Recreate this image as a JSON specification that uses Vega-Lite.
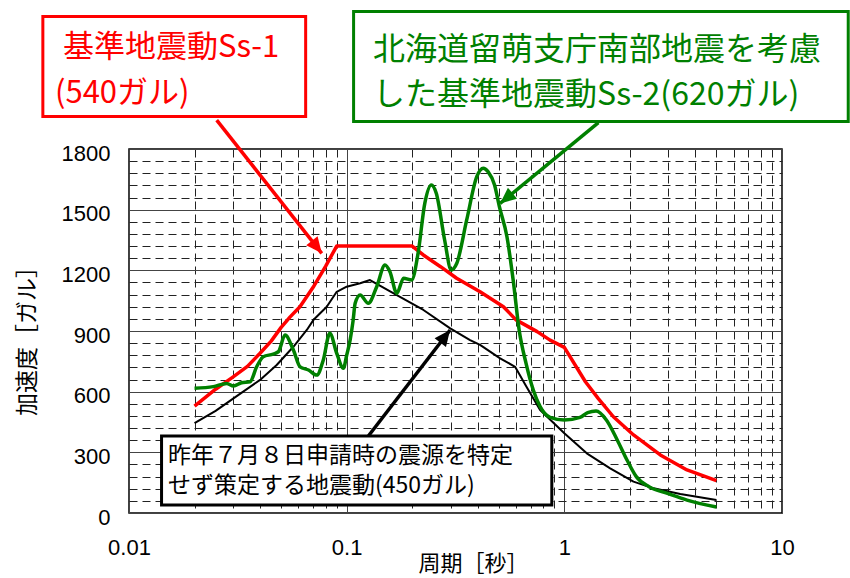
{
  "$schema": "https://vega.github.io/schema/vega-lite/v6.json",
  "width": 653,
  "height": 364,
  "autosize": {"type": "none"},
  "padding": {"left": 129, "top": 149, "right": 68, "bottom": 65},
  "background": "white",
  "config": {
    "view": {"stroke": "#000", "strokeWidth": 1.5}
  },
  "datasets": {
    "curves": [
      {"s": "Ss-3", "p": 0.02, "a": 444},
      {"s": "Ss-3", "p": 0.025, "a": 505},
      {"s": "Ss-3", "p": 0.0302, "a": 567},
      {"s": "Ss-3", "p": 0.04, "a": 658},
      {"s": "Ss-3", "p": 0.0477, "a": 732},
      {"s": "Ss-3", "p": 0.0569, "a": 822},
      {"s": "Ss-3", "p": 0.0656, "a": 905},
      {"s": "Ss-3", "p": 0.0703, "a": 954},
      {"s": "Ss-3", "p": 0.081, "a": 1020},
      {"s": "Ss-3", "p": 0.09, "a": 1094},
      {"s": "Ss-3", "p": 0.1, "a": 1119},
      {"s": "Ss-3", "p": 0.1153, "a": 1136},
      {"s": "Ss-3", "p": 0.128, "a": 1152},
      {"s": "Ss-3", "p": 0.17, "a": 1078},
      {"s": "Ss-3", "p": 0.2252, "a": 1004},
      {"s": "Ss-3", "p": 0.299, "a": 913},
      {"s": "Ss-3", "p": 0.369, "a": 855},
      {"s": "Ss-3", "p": 0.41, "a": 831},
      {"s": "Ss-3", "p": 0.507, "a": 765},
      {"s": "Ss-3", "p": 0.594, "a": 723},
      {"s": "Ss-3", "p": 0.67, "a": 624},
      {"s": "Ss-3", "p": 0.774, "a": 509},
      {"s": "Ss-3", "p": 1.0, "a": 394},
      {"s": "Ss-3", "p": 1.268, "a": 295},
      {"s": "Ss-3", "p": 1.624, "a": 221},
      {"s": "Ss-3", "p": 2.078, "a": 155},
      {"s": "Ss-3", "p": 2.57, "a": 122},
      {"s": "Ss-3", "p": 3.41, "a": 94},
      {"s": "Ss-3", "p": 5.0, "a": 64},
      {"s": "Ss-1", "p": 0.02, "a": 529},
      {"s": "Ss-1", "p": 0.025, "a": 612},
      {"s": "Ss-1", "p": 0.03, "a": 672},
      {"s": "Ss-1", "p": 0.035, "a": 725},
      {"s": "Ss-1", "p": 0.04, "a": 790},
      {"s": "Ss-1", "p": 0.045, "a": 850},
      {"s": "Ss-1", "p": 0.05, "a": 918},
      {"s": "Ss-1", "p": 0.055, "a": 970},
      {"s": "Ss-1", "p": 0.061, "a": 1020},
      {"s": "Ss-1", "p": 0.07, "a": 1115},
      {"s": "Ss-1", "p": 0.08, "a": 1220},
      {"s": "Ss-1", "p": 0.09, "a": 1320},
      {"s": "Ss-1", "p": 0.2, "a": 1320},
      {"s": "Ss-1", "p": 0.225, "a": 1276},
      {"s": "Ss-1", "p": 0.27, "a": 1218},
      {"s": "Ss-1", "p": 0.32, "a": 1161},
      {"s": "Ss-1", "p": 0.41, "a": 1094},
      {"s": "Ss-1", "p": 0.525, "a": 1020},
      {"s": "Ss-1", "p": 0.6, "a": 955},
      {"s": "Ss-1", "p": 0.75, "a": 897},
      {"s": "Ss-1", "p": 0.86, "a": 855},
      {"s": "Ss-1", "p": 1.0, "a": 819},
      {"s": "Ss-1", "p": 1.25, "a": 649},
      {"s": "Ss-1", "p": 1.43, "a": 567},
      {"s": "Ss-1", "p": 1.68, "a": 476},
      {"s": "Ss-1", "p": 2.08, "a": 386},
      {"s": "Ss-1", "p": 2.76, "a": 287},
      {"s": "Ss-1", "p": 3.66, "a": 213},
      {"s": "Ss-1", "p": 5.0, "a": 160},
      {"s": "Ss-2", "p": 0.02, "a": 617},
      {"s": "Ss-2", "p": 0.0244, "a": 625},
      {"s": "Ss-2", "p": 0.0281, "a": 641},
      {"s": "Ss-2", "p": 0.0302, "a": 628},
      {"s": "Ss-2", "p": 0.0329, "a": 644},
      {"s": "Ss-2", "p": 0.036, "a": 649},
      {"s": "Ss-2", "p": 0.0386, "a": 723},
      {"s": "Ss-2", "p": 0.0414, "a": 773},
      {"s": "Ss-2", "p": 0.046, "a": 786},
      {"s": "Ss-2", "p": 0.0486, "a": 798},
      {"s": "Ss-2", "p": 0.0521, "a": 880},
      {"s": "Ss-2", "p": 0.0569, "a": 806},
      {"s": "Ss-2", "p": 0.0611, "a": 723},
      {"s": "Ss-2", "p": 0.0668, "a": 707},
      {"s": "Ss-2", "p": 0.0729, "a": 682},
      {"s": "Ss-2", "p": 0.0781, "a": 757},
      {"s": "Ss-2", "p": 0.0837, "a": 889},
      {"s": "Ss-2", "p": 0.09, "a": 790},
      {"s": "Ss-2", "p": 0.0966, "a": 716},
      {"s": "Ss-2", "p": 0.1, "a": 780},
      {"s": "Ss-2", "p": 0.1037, "a": 855},
      {"s": "Ss-2", "p": 0.107, "a": 950},
      {"s": "Ss-2", "p": 0.1094, "a": 1037},
      {"s": "Ss-2", "p": 0.1153, "a": 1078},
      {"s": "Ss-2", "p": 0.1257, "a": 1037},
      {"s": "Ss-2", "p": 0.1374, "a": 1119},
      {"s": "Ss-2", "p": 0.15, "a": 1226},
      {"s": "Ss-2", "p": 0.158, "a": 1193},
      {"s": "Ss-2", "p": 0.17, "a": 1086},
      {"s": "Ss-2", "p": 0.1826, "a": 1161},
      {"s": "Ss-2", "p": 0.1988, "a": 1152},
      {"s": "Ss-2", "p": 0.2128, "a": 1284},
      {"s": "Ss-2", "p": 0.2285, "a": 1531},
      {"s": "Ss-2", "p": 0.245, "a": 1622},
      {"s": "Ss-2", "p": 0.258, "a": 1581},
      {"s": "Ss-2", "p": 0.2819, "a": 1350},
      {"s": "Ss-2", "p": 0.3021, "a": 1202},
      {"s": "Ss-2", "p": 0.3206, "a": 1235},
      {"s": "Ss-2", "p": 0.356, "a": 1449},
      {"s": "Ss-2", "p": 0.396, "a": 1663},
      {"s": "Ss-2", "p": 0.424, "a": 1705},
      {"s": "Ss-2", "p": 0.446, "a": 1688},
      {"s": "Ss-2", "p": 0.478, "a": 1622},
      {"s": "Ss-2", "p": 0.503, "a": 1515},
      {"s": "Ss-2", "p": 0.545, "a": 1366},
      {"s": "Ss-2", "p": 0.582, "a": 1152},
      {"s": "Ss-2", "p": 0.62, "a": 905},
      {"s": "Ss-2", "p": 0.667, "a": 740},
      {"s": "Ss-2", "p": 0.72, "a": 608},
      {"s": "Ss-2", "p": 0.774, "a": 526},
      {"s": "Ss-2", "p": 0.86, "a": 473},
      {"s": "Ss-2", "p": 1.0, "a": 460},
      {"s": "Ss-2", "p": 1.18, "a": 473},
      {"s": "Ss-2", "p": 1.28, "a": 496},
      {"s": "Ss-2", "p": 1.4, "a": 504},
      {"s": "Ss-2", "p": 1.56, "a": 460},
      {"s": "Ss-2", "p": 1.75, "a": 361},
      {"s": "Ss-2", "p": 1.94, "a": 262},
      {"s": "Ss-2", "p": 2.14, "a": 180},
      {"s": "Ss-2", "p": 2.45, "a": 130},
      {"s": "Ss-2", "p": 2.98, "a": 97},
      {"s": "Ss-2", "p": 3.66, "a": 64},
      {"s": "Ss-2", "p": 5.0, "a": 30}
    ],
    "boxes": [
      {"s": "Ss-1", "p1": 0.00402, "p2": 0.0648, "a1": 1961, "a2": 2455},
      {"s": "Ss-2", "p1": 0.1076, "p2": 20.15, "a1": 1936, "a2": 2480},
      {"s": "Ss-3", "p1": 0.01411, "p2": 0.876, "a1": 40, "a2": 381}
    ],
    "arrows": [
      {"s": "Ss-1", "p1": 0.02529, "a1": 1943, "p2": 0.07685, "a2": 1284},
      {"s": "Ss-2", "p1": 1.434, "a1": 1930, "p2": 0.507, "a2": 1531},
      {"s": "Ss-3", "p1": 0.1258, "a1": 381, "p2": 0.2987, "a2": 905}
    ],
    "labels": [
      {"s": "Ss-1", "p": 0.00497, "a": 2299, "t": "基準地震動Ss-1"},
      {"s": "Ss-1", "p": 0.00457, "a": 2072, "t": "(540ガル)"},
      {"s": "Ss-2", "p": 0.1322, "a": 2290, "t": "北海道留萌支庁南部地震を考慮"},
      {"s": "Ss-2", "p": 0.1322, "a": 2067, "t": "した基準地震動Ss-2(620ガル)"},
      {"s": "Ss-3", "p": 0.01511, "a": 284, "t": "昨年７月８日申請時の震源を特定"},
      {"s": "Ss-3", "p": 0.01511, "a": 134, "t": "せず策定する地震動(450ガル)"}
    ]
  },
  "layer": [
    {
      "data": {"name": "curves"},
      "transform": [{"filter": "datum.s === 'Ss-3'"}],
      "mark": {"type": "line", "color": "#000000", "strokeWidth": 2, "strokeJoin": "round"},
      "encoding": {
        "x": {
          "field": "p", "type": "quantitative",
          "scale": {"type": "log", "domain": [0.01, 10], "nice": false},
          "axis": {
            "values": [0.01,0.02,0.03,0.04,0.05,0.06,0.07,0.08,0.09,0.1,0.2,0.3,0.4,0.5,0.6,0.7,0.8,0.9,1,2,3,4,5,6,7,8,9,10],
            "tickCount": 100,
            "grid": true, "ticks": false, "domain": false,
            "gridColor": {"condition": {"test": "datum.value === 0.01 || datum.value === 0.1 || datum.value === 1 || datum.value === 10", "value": "#444"}, "value": "#222"},
            "gridDash": {"condition": {"test": "datum.value === 0.01 || datum.value === 0.1 || datum.value === 1 || datum.value === 10", "value": []}, "value": [8, 5]},
            "gridWidth": 1,
            "labelExpr": "datum.value === 0.01 ? '0.01' : datum.value === 0.1 ? '0.1' : datum.value === 1 ? '1' : datum.value === 10 ? '10' : ''",
            "labelFont": "Liberation Sans", "labelFontSize": 22, "labelColor": "#000",
            "labelPadding": 24, "labelFlush": false, "labelOverlap": false, "labelBound": false,
            "title": "周期［秒］",
            "titleFont": "Noto Sans CJK JP", "titleFontSize": 22, "titleFontWeight": "normal", "titleColor": "#000",
            "titleX": 344, "titleY": 50, "titleAlign": "center", "titleBaseline": "middle"
          }
        },
        "y": {
          "field": "a", "type": "quantitative",
          "scale": {"domain": [0, 1800], "nice": false, "zero": false},
          "axis": {
            "values": [0,60,120,180,240,300,360,420,480,540,600,660,720,780,840,900,960,1020,1080,1140,1200,1260,1320,1380,1440,1500,1560,1620,1680,1740,1800],
            "tickCount": 100,
            "grid": true, "ticks": false, "domain": false,
            "gridColor": {"condition": {"test": "datum.value % 300 === 0", "value": "#444"}, "value": "#222"},
            "gridDash": {"condition": {"test": "datum.value % 300 === 0", "value": []}, "value": [8, 5]},
            "gridWidth": 1,
            "labelExpr": "datum.value % 300 === 0 ? '' + datum.value : ''",
            "labelFont": "Liberation Sans", "labelFontSize": 22, "labelColor": "#000",
            "labelPadding": 19, "labelOffset": 4, "labelFlush": false, "labelOverlap": false, "labelBound": false,
            "title": "加速度［ガル］",
            "titleFont": "Noto Sans CJK JP", "titleFontSize": 23, "titleFontWeight": "normal", "titleColor": "#000",
            "titleX": -102, "titleY": 186, "titleAlign": "center", "titleBaseline": "middle", "titleAngle": -90
          }
        }
      }
    },
    {
      "data": {"name": "curves"},
      "transform": [{"filter": "datum.s === 'Ss-1'"}],
      "mark": {"type": "line", "color": "#ff0000", "strokeWidth": 3.5, "strokeJoin": "round"},
      "encoding": {"x": {"field": "p", "type": "quantitative"}, "y": {"field": "a", "type": "quantitative"}}
    },
    {
      "data": {"name": "curves"},
      "transform": [{"filter": "datum.s === 'Ss-2'"}],
      "mark": {"type": "line", "color": "#008000", "strokeWidth": 3.5, "strokeJoin": "round", "interpolate": "monotone"},
      "encoding": {"x": {"field": "p", "type": "quantitative"}, "y": {"field": "a", "type": "quantitative"}}
    },
    {
      "data": {"name": "boxes"},
      "mark": {"type": "rect", "fill": "#ffffff", "clip": false},
      "encoding": {
        "x": {"field": "p1", "type": "quantitative"},
        "x2": {"field": "p2"},
        "y": {"field": "a1", "type": "quantitative"},
        "y2": {"field": "a2"},
        "stroke": {"field": "s", "type": "nominal", "scale": {"domain": ["Ss-1", "Ss-2", "Ss-3"], "range": ["#ff0000", "#008000", "#000000"]}, "legend": null},
        "strokeWidth": {"field": "s", "type": "nominal", "scale": {"domain": ["Ss-1", "Ss-2", "Ss-3"], "range": [3, 3, 4.5]}, "legend": null}
      }
    },
    {
      "data": {"name": "arrows"},
      "mark": {"type": "rule", "strokeWidth": 3.5},
      "encoding": {
        "x": {"field": "p1", "type": "quantitative"},
        "y": {"field": "a1", "type": "quantitative"},
        "x2": {"field": "p2"},
        "y2": {"field": "a2"},
        "color": {"field": "s", "type": "nominal", "scale": {"domain": ["Ss-1", "Ss-2", "Ss-3"], "range": ["#ff0000", "#008000", "#000000"]}, "legend": null}
      }
    },
    {
      "data": {"name": "arrows"},
      "transform": [{"filter": "datum.s === 'Ss-1'"}],
      "mark": {"type": "point", "filled": true, "opacity": 1, "color": "#ff0000", "shape": "M0,0L-0.45,1L0.45,1Z", "size": 1024, "angle": 142},
      "encoding": {"x": {"field": "p2", "type": "quantitative"}, "y": {"field": "a2", "type": "quantitative"}}
    },
    {
      "data": {"name": "arrows"},
      "transform": [{"filter": "datum.s === 'Ss-2'"}],
      "mark": {"type": "point", "filled": true, "opacity": 1, "color": "#008000", "shape": "M0,0L-0.45,1L0.45,1Z", "size": 1024, "angle": 230.6},
      "encoding": {"x": {"field": "p2", "type": "quantitative"}, "y": {"field": "a2", "type": "quantitative"}}
    },
    {
      "data": {"name": "arrows"},
      "transform": [{"filter": "datum.s === 'Ss-3'"}],
      "mark": {"type": "point", "filled": true, "opacity": 1, "color": "#000000", "shape": "M0,0L-0.45,1L0.45,1Z", "size": 1024, "angle": 37.9},
      "encoding": {"x": {"field": "p2", "type": "quantitative"}, "y": {"field": "a2", "type": "quantitative"}}
    },
    {
      "data": {"name": "labels"},
      "transform": [{"filter": "datum.s === 'Ss-1'"}],
      "mark": {"type": "text", "align": "left", "baseline": "middle", "font": "Noto Sans CJK JP", "fontSize": 31, "color": "#ff0000"},
      "encoding": {"x": {"field": "p", "type": "quantitative"}, "y": {"field": "a", "type": "quantitative"}, "text": {"field": "t"}}
    },
    {
      "data": {"name": "labels"},
      "transform": [{"filter": "datum.s === 'Ss-2'"}],
      "mark": {"type": "text", "align": "left", "baseline": "middle", "font": "Noto Sans CJK JP", "fontSize": 32, "color": "#008000"},
      "encoding": {"x": {"field": "p", "type": "quantitative"}, "y": {"field": "a", "type": "quantitative"}, "text": {"field": "t"}}
    },
    {
      "data": {"name": "labels"},
      "transform": [{"filter": "datum.s === 'Ss-3'"}],
      "mark": {"type": "text", "align": "left", "baseline": "middle", "font": "Noto Sans CJK JP", "fontSize": 23, "color": "#000000"},
      "encoding": {"x": {"field": "p", "type": "quantitative"}, "y": {"field": "a", "type": "quantitative"}, "text": {"field": "t"}}
    }
  ]
}
